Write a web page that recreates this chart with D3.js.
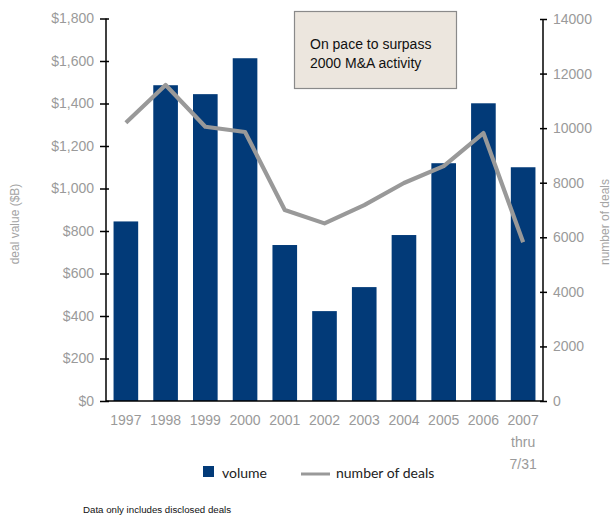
<!DOCTYPE html>
<html>
<head>
<meta charset="utf-8">
<script src="https://cdn.jsdelivr.net/npm/d3@7"></script>
<style>
  html, body { margin: 0; padding: 0; background: #fff; }
  svg { display: block; }
</style>
</head>
<body>
<svg id="chart" width="612" height="516"></svg>
<script>
// M&A deal volume ($B) and number of deals, 1997 – 2007 (thru 7/31)
const years = ["1997", "1998", "1999", "2000", "2001", "2002", "2003", "2004", "2005", "2006", "2007"];
const volume = [845, 1486, 1444, 1613, 734, 423, 536, 781, 1119, 1401, 1100];
const deals = [10200, 11580, 10050, 9860, 7000, 6510, 7180, 7990, 8610, 9820, 5815];
const leftTicks = [0, 200, 400, 600, 800, 1000, 1200, 1400, 1600, 1800];
const rightTicks = [0, 2000, 4000, 6000, 8000, 10000, 12000, 14000];

const svg = d3.select("#chart");
const m = { left: 106, right: 543, top: 18.5, bottom: 401 };
const axisFont = "'Liberation Sans', Arial, sans-serif";
const grey = "#9a9a9a";

const x = d3.scaleBand().domain(years).range([m.left, m.right]).paddingInner(0.38).paddingOuter(0.19);
const yL = d3.scaleLinear().domain([0, 1800]).range([m.bottom, m.top]);
const yR = d3.scaleLinear().domain([0, 14000]).range([m.bottom, m.top + 0.5]);

// bars
svg.append("g").selectAll("rect").data(years).join("rect")
  .attr("x", d => x(d))
  .attr("width", x.bandwidth())
  .attr("y", (d, i) => yL(volume[i]))
  .attr("height", (d, i) => m.bottom - yL(volume[i]))
  .attr("fill", "#023a78");

// number-of-deals line
const line = d3.line()
  .x((d, i) => x(years[i]) + x.bandwidth() / 2)
  .y(d => yR(d));
svg.append("path").datum(deals)
  .attr("d", line)
  .attr("fill", "none")
  .attr("stroke", "#999999")
  .attr("stroke-width", 4.2)
  .attr("stroke-linejoin", "round");

// left axis
const gL = svg.append("g").attr("transform", `translate(${m.left},0)`)
  .call(d3.axisLeft(yL).tickValues(leftTicks).tickSize(6).tickPadding(6)
    .tickFormat(d => "$" + d3.format(",")(d)));
gL.select(".domain").attr("stroke", "#000").attr("stroke-width", 1.5).attr("d", `M0,${m.top}V${m.bottom + 1}`);
gL.selectAll(".tick line").attr("stroke", "#000").attr("stroke-width", 1.5).attr("x2", -6).attr("x1", 3);
gL.selectAll(".tick text").attr("fill", grey).style("font", `14px ${axisFont}`);

// right axis
const gR = svg.append("g").attr("transform", `translate(${m.right},0)`)
  .call(d3.axisRight(yR).tickValues(rightTicks).tickSize(4).tickPadding(6).tickFormat(d3.format("d")));
gR.select(".domain").attr("stroke", "#000").attr("stroke-width", 1.5).attr("d", `M0,${m.top + 0.5}V${m.bottom + 1}`);
gR.selectAll(".tick line").attr("stroke", "#000").attr("stroke-width", 1.5).attr("x1", -3).attr("x2", 4);
gR.selectAll(".tick text").attr("fill", grey).style("font", `14px ${axisFont}`);

// bottom baseline
svg.append("line")
  .attr("x1", m.left).attr("x2", m.right)
  .attr("y1", m.bottom).attr("y2", m.bottom)
  .attr("stroke", "#000").attr("stroke-width", 1.5);

// category labels
const xl = svg.append("g");
years.forEach(yr => {
  const cx = x(yr) + x.bandwidth() / 2;
  xl.append("text").attr("x", cx).attr("y", 425).attr("text-anchor", "middle")
    .attr("fill", grey).style("font", `14px ${axisFont}`).text(yr);
});
const lastX = x(years[years.length - 1]) + x.bandwidth() / 2;
xl.append("text").attr("x", lastX).attr("y", 447).attr("text-anchor", "middle")
  .attr("fill", grey).style("font", `14px ${axisFont}`).text("thru");
xl.append("text").attr("x", lastX).attr("y", 469).attr("text-anchor", "middle")
  .attr("fill", grey).style("font", `14px ${axisFont}`).text("7/31");

// axis titles
svg.append("text").attr("transform", "translate(19,224) rotate(-90)")
  .attr("text-anchor", "middle").attr("fill", "#a4a4a4")
  .style("font", `12px ${axisFont}`).text("deal value ($B)");
svg.append("text").attr("transform", "translate(609,222) rotate(-90)")
  .attr("text-anchor", "middle").attr("fill", "#a4a4a4")
  .style("font", `12px ${axisFont}`).text("number of deals");

// callout box
const box = svg.append("g");
box.append("rect").attr("x", 294.5).attr("y", 11.5).attr("width", 162).attr("height", 77)
  .attr("fill", "#ece6de").attr("stroke", "#8a8a8a").attr("stroke-width", 1.2);
box.append("text").attr("x", 310).attr("y", 49).attr("fill", "#111")
  .style("font", `14px ${axisFont}`).text("On pace to surpass");
box.append("text").attr("x", 310).attr("y", 68).attr("fill", "#111")
  .style("font", `14px ${axisFont}`).text("2000 M&A activity");

// legend
const lg = svg.append("g");
const legendFont = "Lato, 'Open Sans', sans-serif";
lg.append("rect").attr("x", 203).attr("y", 466).attr("width", 11).attr("height", 11).attr("fill", "#023a78");
lg.append("text").attr("x", 222).attr("y", 478).attr("fill", "#222")
  .style("font", `14px ${legendFont}`).text("volume");
lg.append("line").attr("x1", 301).attr("x2", 330).attr("y1", 474).attr("y2", 474)
  .attr("stroke", "#999").attr("stroke-width", 3);
lg.append("text").attr("x", 336).attr("y", 478).attr("fill", "#222")
  .style("font", `14px ${legendFont}`).text("number of deals");

// footnote
svg.append("text").attr("x", 83).attr("y", 513).attr("fill", "#111")
  .style("font", `9.7px ${axisFont}`).text("Data only includes disclosed deals");
</script>
</body>
</html>
